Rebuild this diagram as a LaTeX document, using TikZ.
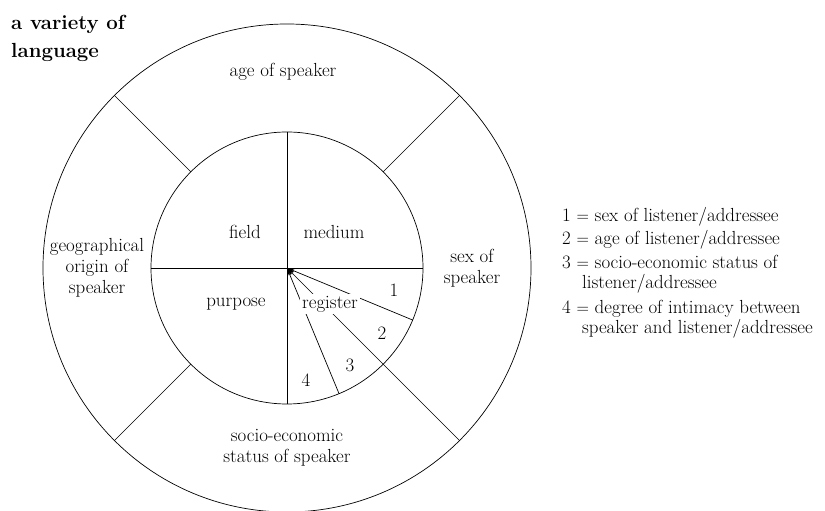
\documentclass[tikz,border=0pt]{standalone}
\usetikzlibrary{arrows.meta}
\tikzset{
  ring/.style={circle, draw, line width=0.7pt, inner sep=0pt, outer sep=0pt},
  divider/.style={line width=0.7pt},
  pointer/.style={line width=0.7pt, -{Stealth[length=8pt,width=5pt]}},
  lab/.style={font=\fontsize{19}{21}\selectfont, align=center, inner sep=1pt},
  key/.style={font=\fontsize{19}{20.5}\selectfont, align=left, anchor=north west, inner sep=0pt},
  heading/.style={font=\fontsize{20.5}{28}\selectfont\bfseries, align=left, anchor=north west, inner sep=0pt}
}

\begin{document}
\begin{tikzpicture}[x=1bp,y=1bp]
  \useasboundingbox (-287,-243) rectangle (538,268);
  \coordinate (c) at (0,0);

  \node[heading] (title) at (-276,253) {a variety of\\language};

  \node[ring, minimum size=488bp] (outer) at (c) {};
  \node[ring, minimum size=272bp] (inner) at (c) {};

  % quadrants
  \draw[divider] (inner.180) -- (inner.0);
  \draw[divider] (inner.90) -- (inner.-90);

  % sectors of the ring
  \draw[divider] (inner.45) -- (outer.45);
  \draw[divider] (inner.135) -- (outer.135);
  \draw[divider] (inner.225) -- (outer.225);
  \draw[pointer] (outer.-45) -- (c);

  % parts of the register quadrant
  \coordinate (r1) at (-22.5:136);
  \coordinate (r3) at (-67.5:136);
  \draw[pointer] (r1) -- (c);
  \draw[pointer] (r3) -- (c);

  \node[lab] (age) at (-4,196) {age of speaker};
  \node[lab] (geo) at (-190,0) {geographical\\origin of\\speaker};
  \node[lab] (sexsp) at (185,0) {sex of\\speaker};
  \node[lab] (ses) at (0,-180) {socio-economic\\status of speaker};

  \node[lab] (field) at (-42,36) {field};
  \node[lab] (medium) at (47,36) {medium};
  \node[lab] (purpose) at (-51,-36) {purpose};
  \node[lab, fill=white, inner sep=2pt] (register) at (43,-36) {register};

  \node[lab] (n1) at (107,-22) {1};
  \node[lab] (n2) at (95,-65) {2};
  \node[lab] (n3) at (63,-97) {3};
  \node[lab] (n4) at (19,-112) {4};

  % key
  \node[key] (key1) at (275,61) {1 $=$ sex of listener/addressee};
  \node[key] (key2) at (275,38) {2 $=$ age of listener/addressee};
  \node[key] (key3) at (275,13) {3 $=$ socio-economic status of\\\hspace*{1.05em}listener/addressee};
  \node[key] (key4) at (275,-32) {4 $=$ degree of intimacy between\\\hspace*{1.05em}speaker and listener/addressee};
\end{tikzpicture}
\end{document}
